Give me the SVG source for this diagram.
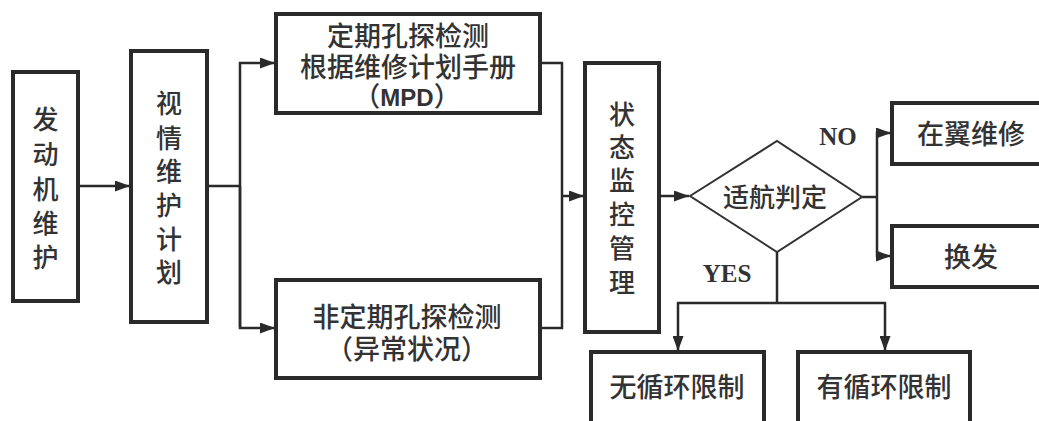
<svg xmlns="http://www.w3.org/2000/svg" width="1039" height="421" viewBox="0 0 1039 421">
<style>
.box{fill:#fff;stroke:#2a2a2a;stroke-width:4}
.dia{fill:#fff;stroke:#333;stroke-width:2}
.ln{fill:none;stroke:#2a2a2a;stroke-width:2.5}
.t{font-family:"Liberation Sans","Noto Sans CJK SC",sans-serif;font-size:26px;font-weight:500;fill:#333;text-anchor:middle;dominant-baseline:central}
.h{font-size:27px}
.m{font-family:"Liberation Sans Narrow","Liberation Sans",sans-serif;font-weight:bold;font-size:24px}
.lab{font-family:"Liberation Serif",serif;font-weight:bold;font-size:25px;fill:#333;text-anchor:middle;dominant-baseline:central}
</style>
<defs>
<marker id="ah" viewBox="0 0 15 11" refX="15" refY="5.5" markerWidth="15" markerHeight="11" markerUnits="userSpaceOnUse" orient="auto">
<path d="M0,0 L15,5.5 L0,11 Z" fill="#2a2a2a"/>
</marker>
</defs>
<rect width="1039" height="421" fill="#fff"/>
<g id="connectors">
<line class="ln" x1="79" y1="186" x2="130" y2="186" marker-end="url(#ah)"/>
<polyline class="ln" points="207,186 240,186"/>
<polyline class="ln" points="240,327 240,63 275,63" marker-end="url(#ah)"/>
<polyline class="ln" points="240,186 240,328 275,328" marker-end="url(#ah)"/>
<polyline class="ln" points="540,63 562,63 562,328 540,328"/>
<line class="ln" x1="562" y1="196" x2="584" y2="196" marker-end="url(#ah)"/>
<line class="ln" x1="659" y1="196" x2="689" y2="196" marker-end="url(#ah)"/>
<polyline class="ln" points="862,197 877,197"/>
<polyline class="ln" points="877,197 877,133 891,133" marker-end="url(#ah)"/>
<polyline class="ln" points="877,197 877,256 891,256" marker-end="url(#ah)"/>
<polyline class="ln" points="777,252 777,303"/>
<polyline class="ln" points="777,303 678,303 678,351" marker-end="url(#ah)"/>
<polyline class="ln" points="777,303 885,303 885,351" marker-end="url(#ah)"/>
<text class="lab" x="838" y="136">NO</text>
<text class="lab" x="727" y="273">YES</text>
</g>
<g id="n1">
<rect class="box" x="13" y="72" width="65" height="229"/>
<text class="t" x="45.5" y="120">发</text>
<text class="t" x="45.5" y="155">动</text>
<text class="t" x="45.5" y="190">机</text>
<text class="t" x="45.5" y="224">维</text>
<text class="t" x="45.5" y="258">护</text>
</g>
<g id="n2">
<rect class="box" x="131" y="51" width="76" height="271"/>
<text class="t" x="169" y="104">视</text>
<text class="t" x="169" y="139">情</text>
<text class="t" x="169" y="172">维</text>
<text class="t" x="169" y="206">护</text>
<text class="t" x="169" y="240">计</text>
<text class="t" x="169" y="273">划</text>
</g>
<g id="n3">
<rect class="box" x="276" y="14" width="264" height="99"/>
<text class="t h" x="408" y="37">定期孔探检测</text>
<text class="t h" x="408" y="68">根据维修计划手册</text>
<text class="t h" x="407" y="97">（<tspan class="m">MPD</tspan>）</text>
</g>
<g id="n4">
<rect class="box" x="276" y="280" width="264" height="98"/>
<text class="t h" x="407" y="318">非定期孔探检测</text>
<text class="t h" x="407" y="350">（异常状况）</text>
</g>
<g id="n5">
<rect class="box" x="585" y="63" width="74" height="269"/>
<text class="t" x="622" y="115">状</text>
<text class="t" x="622" y="148">态</text>
<text class="t" x="622" y="181">监</text>
<text class="t" x="622" y="215">控</text>
<text class="t" x="622" y="249">管</text>
<text class="t" x="622" y="283">理</text>
</g>
<g id="n6">
<polygon class="dia" points="690,196 777,141 862,197 777,252"/>
<text class="t" x="775" y="198">适航判定</text>
</g>
<g id="n7">
<rect class="box" x="892" y="103" width="160" height="61"/>
<text class="t h" x="971" y="135">在翼维修</text>
</g>
<g id="n8">
<rect class="box" x="892" y="226" width="160" height="61"/>
<text class="t h" x="971" y="258">换发</text>
</g>
<g id="n9">
<rect class="box" x="591" y="352" width="173" height="80"/>
<text class="t h" x="677" y="388">无循环限制</text>
</g>
<g id="n10">
<rect class="box" x="798" y="352" width="172" height="80"/>
<text class="t h" x="884" y="388">有循环限制</text>
</g>
</svg>
